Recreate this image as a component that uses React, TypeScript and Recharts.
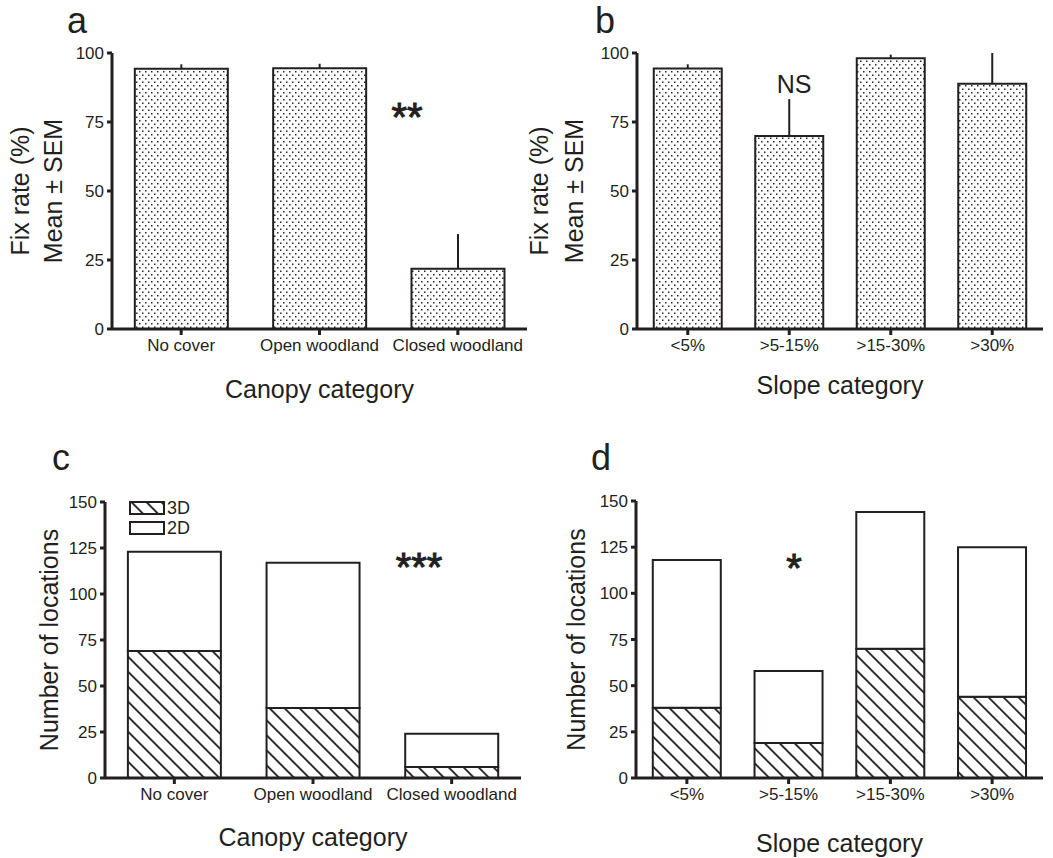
import React from 'react';
import { BarChart, Bar, XAxis, YAxis, ErrorBar, Legend } from 'recharts';

const FONT = '"Liberation Sans", Arial, Helvetica, sans-serif';
const INK = '#231f20';

// Panel a: fix rate by canopy category
const canopyCategories = ['No cover', 'Open woodland', 'Closed woodland'];
const canopyFixRate = [94.3, 94.5, 21.8];
const canopySem = [1.6, 1.6, 12.6];

// Panel b: fix rate by slope category
const slopeCategories = ['<5%', '>5-15%', '>15-30%', '>30%'];
const slopeFixRate = [94.4, 69.9, 98.1, 88.9];
const slopeSem = [1.5, 13.4, 1.3, 11.1];

// Panel c: number of locations by canopy (3D / 2D)
const canopy3D = [69, 38, 6];
const canopy2D = [54, 79, 18];

// Panel d: number of locations by slope (3D / 2D)
const slope3D = [38, 19, 70, 44];
const slope2D = [80, 39, 74, 81];

const fixTicks = [0, 25, 50, 75, 100];
const countTicks = [0, 25, 50, 75, 100, 125, 150];
const legendOrder = ['3D', '2D'];

const dataA = canopyCategories.map((c, i) => ({ category: c, fix: canopyFixRate[i], err: [0, canopySem[i]] }));
const dataB = slopeCategories.map((c, i) => ({ category: c, fix: slopeFixRate[i], err: [0, slopeSem[i]] }));
const dataC = canopyCategories.map((c, i) => ({ category: c, d3: canopy3D[i], d2: canopy2D[i] }));
const dataD = slopeCategories.map((c, i) => ({ category: c, d3: slope3D[i], d2: slope2D[i] }));

const tickStyle = { fill: INK, fontSize: 17, fontFamily: FONT };

function DotsPattern({ id }: { id: string }) {
  return (
    <pattern id={id} patternUnits="userSpaceOnUse" width={6} height={7}>
      <rect x={0} y={0} width={6} height={7} fill="#ffffff" />
      <rect x={1} y={1} width={1.5} height={1.5} fill="#2a2a2a" />
      <rect x={4} y={4.5} width={1.5} height={1.5} fill="#2a2a2a" />
    </pattern>
  );
}

function HatchPattern({ id }: { id: string }) {
  return (
    <pattern id={id} patternUnits="userSpaceOnUse" width={10.6} height={10.6} patternTransform="rotate(-45)">
      <rect x={0} y={0} width={10.6} height={10.6} fill="#ffffff" />
      <rect x={0} y={0} width={1.8} height={10.6} fill={INK} />
    </pattern>
  );
}

function makeYTitle(lines: string[], xs: number[], fallbackCy: number) {
  return (props: any) => {
    const vb = props && props.viewBox;
    const cy = vb && typeof vb.y === 'number' ? vb.y + vb.height / 2 : fallbackCy;
    return (
      <g>
        {lines.map((l, i) => (
          <text
            key={i}
            x={xs[i]}
            y={cy}
            transform={`rotate(-90 ${xs[i]} ${cy})`}
            textAnchor="middle"
            fontSize={25}
            fontFamily={FONT}
            fill={INK}
          >
            {l}
          </text>
        ))}
      </g>
    );
  };
}

function FixPanel(props: {
  id: string; left: number; width: number; data: any[]; yAxisWidth: number; rightMargin: number;
  xTitle: string; titleOffset: number; yLabelXs: number[];
}) {
  const { id, left, width, data, yAxisWidth, rightMargin, xTitle, titleOffset, yLabelXs } = props;
  const height = 420;
  return (
    <div style={{ position: 'absolute', left, top: 0, width, height }}>
      <BarChart width={width} height={height} data={data}
        margin={{ top: 53, right: rightMargin, bottom: 0, left: 0 }} barCategoryGap="16.5%">
        <defs>
          <DotsPattern id={`dots-${id}`} />
        </defs>
        <XAxis dataKey="category" height={91} interval={0}
          axisLine={{ stroke: INK, strokeWidth: 3 }} tickLine={{ stroke: INK, strokeWidth: 3 }}
          tickSize={6} tickMargin={4} tick={tickStyle}
          label={{ value: xTitle, position: 'insideBottom', offset: titleOffset, fontSize: 25, fill: INK, fontFamily: FONT }} />
        <YAxis type="number" domain={[0, 100]} ticks={fixTicks} width={yAxisWidth} interval={0}
          axisLine={{ stroke: INK, strokeWidth: 3 }} tickLine={{ stroke: INK, strokeWidth: 3 }}
          tickSize={5} tickMargin={3} tick={tickStyle}
          label={makeYTitle(['Fix rate (%)', 'Mean \u00B1 SEM'], yLabelXs, 191)} />
        <Bar dataKey="fix" fill={`url(#dots-${id})`} stroke={INK} strokeWidth={2} isAnimationActive={false}>
          <ErrorBar dataKey="err" width={0} stroke={INK} strokeWidth={2} direction="y" />
        </Bar>
      </BarChart>
    </div>
  );
}

function LegendContent(hatchId: string) {
  return (props: any) => {
    const payload = ((props && props.payload) || []).slice().sort(
      (p: any, q: any) => legendOrder.indexOf(p.value) - legendOrder.indexOf(q.value)
    );
    return (
      <div style={{ display: 'flex', flexDirection: 'column', gap: 6 }}>
        {payload.map((e: any) => (
          <div key={e.value} style={{ display: 'flex', alignItems: 'center', height: 14, fontSize: 18, fontFamily: FONT, color: INK }}>
            <svg width={36} height={14} style={{ display: 'block' }}>
              <defs>
                <HatchPattern id={hatchId} />
              </defs>
              <rect x={1} y={1} width={34} height={12} fill={e.value === '3D' ? `url(#${hatchId})` : '#ffffff'} stroke={INK} strokeWidth={2} />
            </svg>
            <span style={{ marginLeft: 2, lineHeight: '14px' }}>{e.value}</span>
          </div>
        ))}
      </div>
    );
  };
}

function CountPanel(props: {
  id: string; left: number; width: number; data: any[]; yAxisWidth: number; rightMargin: number; topMargin: number;
  xTitle: string; titleOffset: number; yLabelX: number; showLegend: boolean;
}) {
  const { id, left, width, data, yAxisWidth, rightMargin, topMargin, xTitle, titleOffset, yLabelX, showLegend } = props;
  const height = 418;
  return (
    <div style={{ position: 'absolute', left, top: 440, width, height }}>
      <BarChart width={width} height={height} data={data}
        margin={{ top: topMargin, right: rightMargin, bottom: 0, left: 0 }} barCategoryGap="16.5%">
        <defs>
          <HatchPattern id={`hatch-${id}`} />
        </defs>
        <XAxis dataKey="category" height={80} interval={0}
          axisLine={{ stroke: INK, strokeWidth: 3 }} tickLine={{ stroke: INK, strokeWidth: 3 }}
          tickSize={6} tickMargin={4} tick={tickStyle}
          label={{ value: xTitle, position: 'insideBottom', offset: titleOffset, fontSize: 25, fill: INK, fontFamily: FONT }} />
        <YAxis type="number" domain={[0, 150]} ticks={countTicks} width={yAxisWidth} interval={0}
          axisLine={{ stroke: INK, strokeWidth: 3 }} tickLine={{ stroke: INK, strokeWidth: 3 }}
          tickSize={5} tickMargin={3} tick={tickStyle}
          label={makeYTitle(['Number of locations'], [yLabelX], 200)} />
        {showLegend && (
          <Legend layout="horizontal" verticalAlign="middle" align="center"
            wrapperStyle={{ left: 129, top: 61, width: 80, height: 40 }}
            content={LegendContent(`hatch-legend-${id}`)} />
        )}
        <Bar dataKey="d3" name="3D" stackId="s" fill={`url(#hatch-${id})`} stroke={INK} strokeWidth={2} isAnimationActive={false} />
        <Bar dataKey="d2" name="2D" stackId="s" fill="#ffffff" stroke={INK} strokeWidth={2} isAnimationActive={false} />
      </BarChart>
    </div>
  );
}

const letterStyle = { fontSize: 36, fontFamily: FONT, fill: INK } as const;
const starStyle = { fontSize: 40, fontFamily: FONT, fill: INK } as const;

export default function App() {
  return (
    <div style={{ position: 'absolute', left: 0, top: 0, width: 1053, height: 858, background: '#ffffff', overflow: 'hidden' }}>
      <FixPanel id="a" left={0} width={530} data={dataA} yAxisWidth={112} rightMargin={3}
        xTitle="Canopy category" titleOffset={22} yLabelXs={[29, 62]} />
      <FixPanel id="b" left={520} width={533} data={dataB} yAxisWidth={117} rightMargin={10}
        xTitle="Slope category" titleOffset={26} yLabelXs={[28, 63]} />
      <CountPanel id="c" left={0} width={530} data={dataC} yAxisWidth={105} rightMargin={9} topMargin={62}
        xTitle="Canopy category" titleOffset={12} yLabelX={58} showLegend={true} />
      <CountPanel id="d" left={520} width={533} data={dataD} yAxisWidth={116} rightMargin={10} topMargin={61}
        xTitle="Slope category" titleOffset={6} yLabelX={65} showLegend={false} />
      <svg width={1053} height={858} style={{ position: 'absolute', left: 0, top: 0, pointerEvents: 'none' }}>
        <text x={67} y={33} {...letterStyle}>a</text>
        <text x={595} y={33} {...letterStyle}>b</text>
        <text x={52} y={470} {...letterStyle}>c</text>
        <text x={591} y={470} {...letterStyle}>d</text>
        <text x={407} y={131} textAnchor="middle" stroke={INK} strokeWidth={1} {...starStyle}>**</text>
        <text x={794} y={93} textAnchor="middle" fontSize={25} fontFamily={FONT} fill={INK}>NS</text>
        <text x={419} y={581} textAnchor="middle" stroke={INK} strokeWidth={1} {...starStyle}>***</text>
        <text x={794} y={582} textAnchor="middle" stroke={INK} strokeWidth={1} {...starStyle}>*</text>
      </svg>
    </div>
  );
}
